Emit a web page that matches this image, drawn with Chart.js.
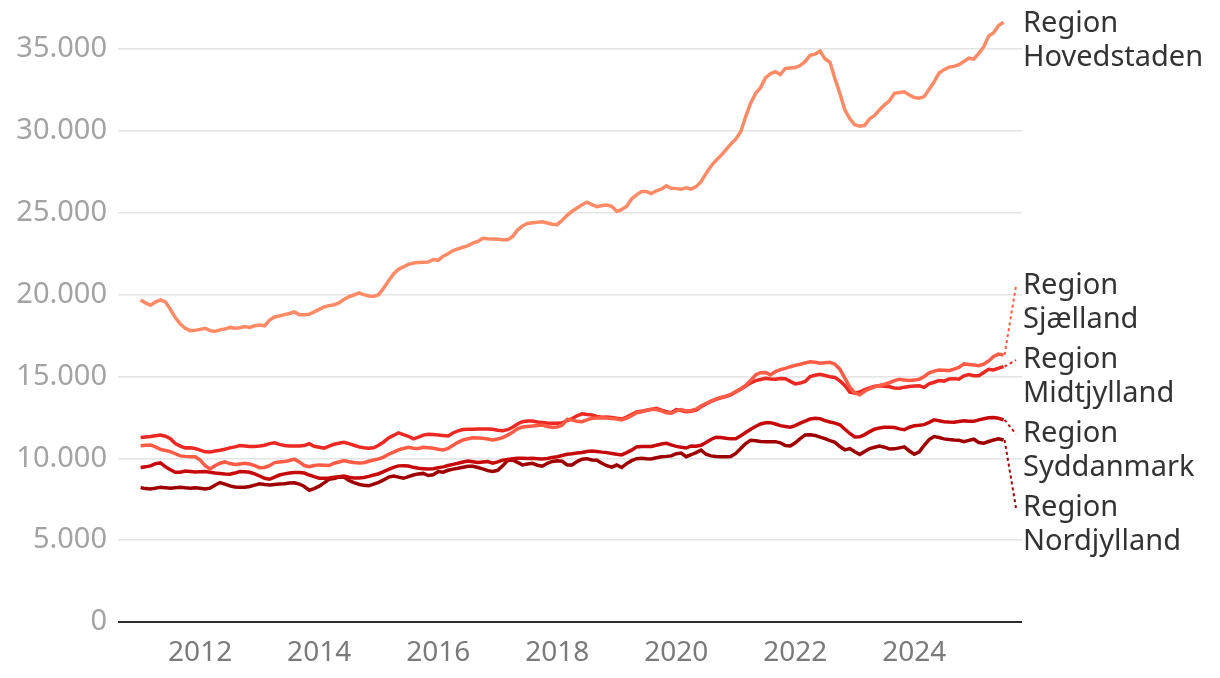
<!DOCTYPE html>
<html>
<head>
<meta charset="utf-8">
<script src="https://cdn.jsdelivr.net/npm/chart.js@4.4.1/dist/chart.umd.min.js"></script>
<style>
  html, body { margin:0; padding:0; background:#fff; }
  #wrap { width:1220px; height:678px; position:relative; }
</style>
</head>
<body>
<div id="wrap"><canvas id="chart"></canvas></div>
<script>
// monthly values, Jan 2011 - Jul 2025
const START_YEAR = 2011;
const regions = ['Region Hovedstaden','Region Sjælland','Region Midtjylland','Region Syddanmark','Region Nordjylland'];
const xTicks = [2012, 2014, 2016, 2018, 2020, 2022, 2024];
const yTicks = [0, 5000, 10000, 15000, 20000, 25000, 30000, 35000];

const hovedstaden = [
  19680,19500,19350,19550,19680,19560,19100,18600,18200,17950,17800,17820,
  17880,17950,17800,17750,17850,17900,18000,17950,17980,18050,18000,18100,
  18150,18100,18450,18640,18700,18780,18850,18950,18780,18770,18800,18950,
  19100,19250,19330,19380,19500,19700,19880,19980,20110,20000,19920,19900,
  20000,20400,20850,21270,21550,21700,21850,21930,21960,21980,22000,22150,
  22100,22350,22500,22700,22800,22900,23000,23150,23250,23450,23420,23400,
  23380,23350,23350,23550,23950,24200,24350,24400,24420,24450,24380,24300,
  24280,24550,24850,25100,25300,25500,25650,25500,25380,25450,25480,25400,
  25100,25200,25400,25850,26100,26300,26300,26180,26350,26450,26650,26500,
  26480,26450,26530,26450,26600,26900,27400,27850,28200,28500,28850,29200,
  29500,29950,30870,31700,32300,32650,33250,33500,33620,33450,33820,33850,
  33880,34000,34250,34620,34700,34880,34420,34200,33200,32300,31300,30750,
  30380,30300,30350,30750,30950,31300,31600,31850,32300,32350,32400,32200,
  32050,32000,32100,32550,33000,33550,33750,33900,33950,34050,34250,34450,
  34400,34750,35150,35800,36000,36450,36650
];
const sjaelland = [
  10770,10800,10820,10700,10550,10480,10410,10280,10150,10120,10100,10100,
  9900,9550,9350,9550,9700,9780,9680,9620,9660,9700,9650,9550,
  9430,9440,9550,9740,9770,9800,9870,9950,9780,9560,9490,9560,
  9600,9580,9560,9700,9780,9860,9790,9740,9720,9730,9820,9900,
  9970,10080,10250,10380,10520,10600,10680,10620,10600,10680,10650,10620,
  10560,10510,10600,10800,10980,11120,11200,11260,11250,11230,11180,11120,
  11180,11270,11420,11600,11800,11920,11950,11980,12000,12040,11950,11900,
  11920,12020,12380,12350,12260,12240,12350,12450,12460,12480,12460,12430,
  12400,12350,12450,12600,12780,12850,12950,13000,12980,12900,12780,12750,
  12900,12980,12900,12920,13000,13200,13350,13500,13620,13720,13800,13900,
  14080,14250,14450,14750,15100,15230,15250,15100,15300,15420,15500,15600,
  15680,15750,15830,15900,15870,15810,15840,15870,15750,15450,14900,14350,
  14000,13880,14100,14250,14370,14450,14530,14620,14750,14830,14780,14750,
  14780,14830,15000,15220,15330,15400,15380,15360,15450,15560,15770,15740,
  15710,15660,15750,15950,16220,16370,16320
];
const midtjylland = [
  11270,11300,11330,11380,11430,11350,11200,10900,10750,10640,10650,10600,
  10500,10400,10390,10450,10500,10560,10640,10700,10780,10760,10730,10720,
  10750,10800,10900,10950,10850,10780,10760,10750,10760,10780,10900,10740,
  10680,10620,10750,10860,10920,10980,10900,10800,10700,10650,10620,10650,
  10800,11000,11250,11400,11560,11450,11350,11190,11300,11420,11470,11450,
  11430,11400,11370,11550,11680,11760,11780,11780,11790,11800,11800,11780,
  11720,11690,11750,11900,12100,12240,12280,12280,12220,12190,12160,12150,
  12150,12170,12300,12430,12600,12720,12680,12650,12560,12510,12520,12500,
  12450,12400,12520,12680,12830,12880,12920,12990,13050,12950,12850,12790,
  12980,12920,12850,12880,12950,13150,13320,13480,13600,13700,13780,13880,
  14050,14220,14420,14600,14750,14820,14890,14850,14830,14880,14860,14700,
  14550,14600,14700,15000,15080,15140,15060,14990,14940,14730,14450,14050,
  13990,14050,14200,14300,14400,14440,14400,14370,14300,14290,14350,14390,
  14420,14430,14340,14550,14650,14750,14720,14850,14870,14830,15040,15120,
  15050,15050,15250,15440,15400,15510,15600
];
const syddanmark = [
  9440,9480,9540,9680,9720,9480,9300,9150,9150,9230,9200,9170,
  9180,9190,9150,9100,9080,9050,9030,9100,9190,9180,9150,9050,
  8920,8780,8720,8850,8980,9050,9100,9130,9130,9100,8980,8880,
  8790,8780,8800,8840,8880,8920,8850,8800,8800,8830,8900,8980,
  9060,9190,9320,9450,9540,9550,9530,9450,9390,9370,9350,9360,
  9420,9480,9560,9630,9700,9780,9840,9790,9740,9770,9800,9710,
  9780,9890,9930,9970,10000,10000,9990,10000,9980,9960,9990,10050,
  10100,10170,10250,10280,10320,10360,10420,10450,10420,10380,10350,10300,
  10250,10210,10350,10500,10700,10720,10720,10730,10800,10880,10920,10820,
  10730,10680,10630,10760,10740,10800,10970,11150,11290,11270,11230,11190,
  11200,11380,11580,11780,11950,12100,12170,12180,12100,12000,11950,11900,
  12000,12150,12280,12400,12450,12420,12300,12220,12150,12050,11780,11520,
  11310,11320,11450,11630,11780,11860,11900,11900,11880,11800,11750,11900,
  11990,12020,12060,12200,12350,12300,12240,12220,12210,12250,12290,12260,
  12260,12350,12420,12480,12490,12450,12350
];
const nordjylland = [
  8210,8150,8130,8180,8230,8200,8170,8200,8230,8200,8180,8200,
  8170,8130,8180,8350,8520,8420,8320,8250,8230,8230,8280,8360,
  8440,8400,8370,8400,8430,8450,8490,8510,8430,8280,8050,8150,
  8300,8500,8720,8760,8850,8850,8650,8520,8420,8350,8320,8430,
  8530,8680,8850,8920,8850,8780,8880,8980,9050,9080,8950,9000,
  9190,9150,9270,9340,9390,9450,9510,9520,9440,9360,9250,9200,
  9270,9550,9860,9900,9750,9600,9650,9700,9580,9520,9700,9810,
  9850,9820,9600,9600,9800,9950,9980,9900,9880,9700,9550,9460,
  9590,9440,9680,9860,9980,10000,9970,9960,10040,10100,10120,10150,
  10280,10320,10100,10220,10350,10500,10250,10150,10110,10100,10100,10110,
  10300,10600,10900,11100,11080,11030,11020,11020,11020,10950,10780,10750,
  10950,11200,11430,11440,11400,11300,11200,11080,10980,10720,10520,10600,
  10400,10230,10420,10600,10680,10750,10680,10570,10580,10640,10700,10450,
  10250,10400,10800,11150,11330,11270,11190,11150,11120,11100,11020,11100,
  11170,10970,10930,11030,11120,11190,11120
];

const series = [hovedstaden, sjaelland, midtjylland, syddanmark, nordjylland];
const colors = ['#ff8a66', '#ff5b45', '#ec2822', '#c60a0a', '#9e0000'];
const months = hovedstaden.map((_, i) => START_YEAR + i / 12);

// y of the first label line for each region (right edge)
const labelY = [24, 286, 360, 434, 508];
const FONT = '"Noto Sans", "Open Sans", sans-serif';

const fmt = v => String(v).replace(/\B(?=(\d{3})+(?!\d))/g, '.');

const endLabels = {
  id: 'endLabels',
  afterDatasetsDraw(chart) {
    const ctx = chart.ctx;
    ctx.save();
    chart.data.datasets.forEach((ds, i) => {
      const meta = chart.getDatasetMeta(i);
      const last = meta.data[meta.data.length - 1];
      const ly = labelY[i];
      if (i > 0) {
        ctx.beginPath();
        ctx.setLineDash([3, 3]);
        ctx.lineWidth = 2;
        ctx.strokeStyle = colors[i];
        ctx.moveTo(last.x + 1, last.y);
        ctx.lineTo(1016, ly);
        ctx.stroke();
      }
      const parts = regions[i].split(' ');
      ctx.setLineDash([]);
      ctx.fillStyle = '#333';
      ctx.font = '29px ' + FONT;
      ctx.textBaseline = 'middle';
      ctx.textAlign = 'left';
      ctx.fillText(parts[0], 1023, ly);
      ctx.fillText(parts[1], 1023, ly + 34);
    });
    ctx.restore();
  }
};

new Chart(document.getElementById('chart'), {
  type: 'line',
  data: {
    labels: months,
    datasets: series.map((s, i) => ({
      label: regions[i],
      data: s.map((v, j) => ({ x: months[j], y: v })),
      borderColor: colors[i],
      borderWidth: 3.5,
      pointRadius: 0,
      tension: 0,
      fill: false
    }))
  },
  options: {
    responsive: true, maintainAspectRatio: false, animation: false,
    layout: { padding: { top: 5, right: 198, left: 0, bottom: 0 } },
    plugins: { legend: { display: false }, tooltip: { enabled: false } },
    scales: {
      x: {
        type: 'linear', min: 2010.62, max: 2025.81,
        afterBuildTicks(scale) { scale.ticks = xTicks.map(v => ({ value: v })); },
        afterFit(scale) { scale.height = 56; scale.paddingLeft = 0; scale.paddingRight = 0; },
        grid: { display: false, drawTicks: false },
        border: { display: false },
        ticks: { color: '#7a7a7a', padding: 14, font: { family: FONT, size: 28 }, callback: v => String(v), maxRotation: 0 }
      },
      y: {
        min: 0, max: 37700,
        afterBuildTicks(scale) { scale.ticks = yTicks.map(v => ({ value: v })); },
        afterFit(scale) { scale.width = 118; scale.paddingTop = 0; scale.paddingBottom = 0; },
        grid: {
          drawTicks: false,
          color: c => c.tick && c.tick.value === 0 ? '#2b2b2b' : '#e4e4e4',
          lineWidth: c => c.tick && c.tick.value === 0 ? 2 : 1.5
        },
        border: { display: false },
        ticks: { color: '#a3a3a3', padding: 11, font: { family: FONT, size: 29 }, callback: v => fmt(v) }
      }
    }
  },
  plugins: [endLabels]
});
</script>
</body>
</html>
